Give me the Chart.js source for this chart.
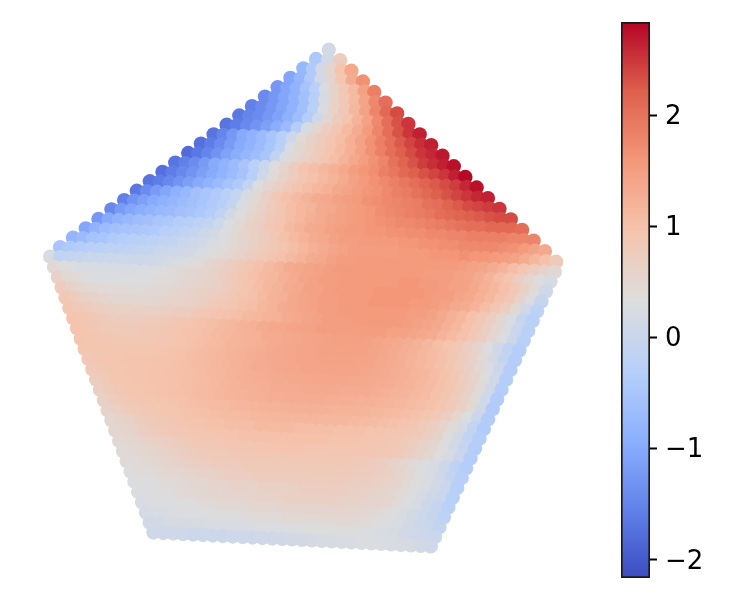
<!DOCTYPE html>
<html><head><meta charset="utf-8">
<style>html,body{margin:0;padding:0;background:#fff}#a,#b{position:absolute;top:0}#a{left:0}#b{left:610px}</style>
<script src="https://cdn.jsdelivr.net/npm/chart.js@4"></script></head>
<body><canvas id="a" width="600" height="600"></canvas><canvas id="b" width="140" height="600"></canvas>
<script>
const tickValues=[-2,-1,0,1,2];
const colorMin=-2.162, colorMax=2.836;
const coolwarm=[[59,76,192],[98,130,234],[141,176,254],[184,208,249],[221,221,221],[245,196,173],[244,152,122],[222,96,77],[180,4,38]];
const pentagonX=[0.0992,1.0176,0.5064,-0.6016,-1.0176];
const pentagonY=[1.0812,0.2212,-0.9148,-0.8592,0.2568];
const rowSlope=-0.05;
const rowLevels=[1.086,1.046,1.006,.965,.925,.885,.844,.804,.764,.723,.683,.643,.602,.562,.522,.481,.441,.401,.360,.320,.280,.239,.199,.159,.118,.078,.038,-.003,-.043,-.083,-.124,-.164,-.204,-.245,-.285,-.325,-.366,-.406,-.446,-.486,-.527,-.567,-.607,-.648,-.688,-.728,-.769,-.809,-.849,-.888];
// values in hundredths, one list per row of the lattice
const rowValues=[
[15],
[-45,15,75],
[-75,-40,15,55,95,135],
[-105,-80,-40,15,55,90,130,165],
[-125,-105,-85,-55,-25,25,60,85,110,145,185],
[-140,-125,-105,-85,-60,-30,20,60,85,110,140,175,205],
[-155,-140,-125,-105,-85,-60,-25,25,60,85,115,145,180,210,235],
[-165,-150,-140,-125,-110,-90,-65,-35,10,50,75,95,120,145,175,205,230,250],
[-170,-160,-145,-130,-115,-95,-70,-35,20,50,70,90,110,130,155,180,205,230,250,265],
[-170,-150,-125,-100,-85,-70,-50,-30,5,40,60,75,90,105,125,145,165,185,205,225,240,255,265],
[-175,-160,-140,-120,-100,-85,-70,-50,-25,25,50,65,80,95,110,125,145,165,185,205,220,235,250,260,270],
[-180,-165,-150,-130,-110,-95,-80,-65,-50,-15,25,45,60,75,90,105,120,135,150,165,180,200,215,230,245,255,265,275],
[-170,-155,-140,-120,-100,-85,-70,-50,-25,0,35,55,75,95,105,115,125,135,150,160,170,185,195,210,220,230,240,250,265,280],
[-175,-160,-145,-130,-115,-100,-85,-70,-55,-30,10,40,60,75,90,100,110,120,130,145,155,165,175,185,195,205,215,225,235,245,260,275],
[-170,-160,-145,-130,-115,-100,-85,-70,-55,-40,-10,30,50,65,80,95,105,115,125,135,140,150,160,165,175,185,190,200,210,220,230,240,250,260,265],
[-165,-140,-120,-105,-90,-75,-60,-50,-40,-25,-5,20,45,65,85,100,110,120,130,135,145,150,155,165,170,175,180,185,190,200,205,215,225,235,240,245,250],
[-155,-130,-115,-100,-90,-80,-70,-60,-50,-40,-30,-10,25,45,60,75,90,105,115,120,130,135,145,150,155,160,170,175,180,185,190,195,205,210,215,220,225,230,235,235],
[-145,-120,-105,-95,-85,-75,-70,-60,-55,-45,-35,-15,15,35,50,65,80,90,105,115,125,130,140,145,150,155,160,165,170,175,175,180,185,190,195,200,205,205,210,210,210,205],
[-125,-100,-85,-75,-65,-60,-50,-45,-35,-30,-20,-10,10,30,45,60,70,85,95,110,120,130,135,145,150,155,155,160,160,165,165,170,170,175,175,180,180,185,185,185,185,180,180,180],
[-105,-85,-70,-60,-55,-50,-45,-40,-30,-25,-15,-5,5,15,30,45,55,65,75,85,100,110,120,130,135,145,150,150,155,155,155,155,160,160,165,165,170,170,175,175,175,175,170,165,155,145,135],
[-80,-70,-55,-50,-40,-35,-30,-25,-20,-15,-10,0,5,15,25,35,45,55,65,75,85,95,105,115,125,130,140,145,150,150,150,150,150,155,155,155,160,160,160,165,160,160,155,150,145,130,115,100,80],
[-50,-40,-35,-30,-25,-20,-20,-15,-10,-5,0,5,10,15,25,35,40,50,60,70,80,90,100,110,120,130,135,145,150,150,155,155,155,155,155,155,155,155,155,155,150,145,140,130,120,105,90,75,60,45],
[20,-15,-10,-5,0,0,5,5,5,5,10,15,20,25,35,40,50,60,70,80,90,100,110,120,130,135,140,145,150,155,155,155,155,155,155,155,155,155,150,150,150,145,140,130,120,105,90,70,50,35,20],
[45,35,30,25,25,25,25,25,25,30,30,35,40,45,50,55,60,70,80,90,100,110,115,125,130,140,145,150,150,155,155,155,155,155,155,160,160,155,155,150,145,145,135,125,115,100,85,65,40,10],
[60,45,40,35,30,30,30,30,35,35,40,40,45,50,55,60,65,75,85,95,105,115,120,130,135,145,145,150,155,155,155,155,160,160,160,160,160,155,150,150,140,135,125,115,100,85,60,30,-5],
[75,60,50,45,40,40,40,40,40,45,45,50,55,60,65,70,75,85,95,100,110,120,125,135,140,145,150,150,155,155,155,160,160,160,160,155,155,150,145,135,130,120,105,90,70,45,10,-20],
[85,75,65,60,55,50,50,50,50,50,55,60,60,65,70,80,85,90,100,105,115,120,130,135,140,145,150,150,155,155,155,155,155,155,155,150,150,145,135,125,115,100,85,70,50,25,-5,-25],
[90,80,75,70,65,65,65,65,65,65,70,75,75,85,90,95,100,105,110,115,120,125,130,135,140,145,150,150,150,155,155,155,155,155,150,145,140,135,125,115,100,85,70,50,25,0,-25],
[95,90,85,80,75,75,75,75,80,80,85,90,95,100,105,110,115,120,125,130,135,135,140,145,145,150,150,150,150,150,150,150,145,145,140,135,130,120,110,100,85,70,50,30,5,-25],
[95,90,85,82,80,80,82,85,87,90,93,97,100,105,110,115,118,122,125,130,132,135,138,140,143,145,147,148,147,145,142,138,133,128,122,115,105,95,85,72,55,35,10,-15,-35],
[95,92,90,88,87,87,87,88,90,92,96,100,103,108,112,117,120,125,128,132,135,138,140,142,144,145,145,145,145,142,138,133,128,122,115,108,100,88,75,60,40,15,-10,-35],
[92,92,92,92,92,92,92,93,95,97,100,104,108,112,116,120,124,128,131,134,136,138,140,142,143,143,143,143,142,140,136,132,127,120,115,108,100,90,78,65,48,25,0,-35],
[85,90,93,94,95,95,96,97,98,100,103,107,110,114,118,122,126,130,132,135,137,138,140,140,141,141,141,140,138,136,133,128,123,118,113,106,97,87,72,55,35,8,-35],
[80,87,92,94,95,96,97,98,100,102,105,108,112,115,119,123,126,129,131,133,135,136,137,137,137,137,136,135,133,131,128,124,120,115,108,100,90,78,62,42,12,-35],
[75,83,90,93,95,96,98,99,101,103,106,109,112,116,119,123,126,128,130,131,132,133,133,133,133,132,131,130,127,124,120,117,112,107,100,92,78,62,40,8,-38],
[70,80,88,92,94,96,98,100,102,105,108,111,114,117,120,123,125,127,128,129,129,129,129,128,127,126,125,123,120,117,114,110,105,100,93,82,66,45,10,-38],
[65,75,83,88,91,93,95,98,100,103,106,109,111,114,116,118,120,121,122,123,123,123,122,121,120,119,117,115,112,109,105,100,92,83,70,52,30,2,-38],
[60,68,76,82,86,89,92,94,97,100,102,105,107,109,111,113,114,115,116,116,116,116,115,114,113,111,109,107,104,100,95,90,82,72,58,40,18,-10,-38],
[50,60,65,75,80,85,85,90,95,95,100,100,105,105,105,110,110,110,110,105,105,105,105,100,100,100,95,95,90,90,85,80,70,60,35,15,-15,-35],
[50,55,60,70,75,80,85,85,90,90,95,95,95,100,100,100,100,100,100,100,100,100,95,95,95,95,90,90,85,80,70,60,50,35,15,-5,-35],
[45,50,55,60,65,70,75,80,85,85,85,90,90,90,90,95,95,95,95,90,90,90,90,90,90,90,85,85,80,70,60,50,35,20,0,-35],
[40,45,50,55,60,65,70,75,80,80,80,85,85,85,85,85,85,85,85,85,85,85,85,80,80,75,70,60,50,40,30,20,5,-20,-35],
[40,40,45,50,55,60,65,70,70,75,75,75,80,80,80,80,80,80,80,80,80,80,80,75,75,70,65,55,45,35,25,10,-10,-30],
[35,40,40,45,50,50,55,60,60,65,70,70,70,75,75,75,75,75,75,75,75,75,75,70,70,65,60,55,45,35,25,15,0,-30],
[30,35,35,40,40,45,50,50,55,55,60,60,60,65,65,65,65,70,70,70,70,70,65,65,60,55,50,40,30,20,10,0,-25],
[30,30,35,35,40,45,45,50,50,55,55,55,60,60,60,65,65,65,65,65,65,60,60,55,55,50,40,30,20,5,-5,-25],
[25,30,30,30,35,35,40,40,45,45,45,50,50,50,55,55,55,55,55,55,55,50,50,45,40,35,25,15,5,-5,-20],
[20,25,25,30,30,30,30,35,35,35,40,40,40,40,45,45,45,45,45,45,45,45,40,35,30,25,15,5,0,-10],
[15,15,20,20,20,20,25,25,25,25,25,30,30,30,30,35,35,35,35,35,35,30,30,25,20,15,10,5,0],
[10,10,8,8,5,5,5,5,8,8,10,10,12,12,15,15,18,20,22,25,25,28,28,28,25,22,20,15,10]
];
function cmap(v){
  const t=Math.max(0,Math.min(1,(v-colorMin)/(colorMax-colorMin)))*(coolwarm.length-1);
  const i=Math.min(coolwarm.length-2,Math.floor(t)),f=t-i,a=coolwarm[i],b=coolwarm[i+1];
  return `rgb(${a.map((c,j)=>Math.round(c+(b[j]-c)*f)).join(',')})`;
}
function rowExtent(level){
  const xs=[];const n=pentagonX.length;
  for(let i=0;i<n;i++){
    const x1=pentagonX[i],y1=pentagonY[i],x2=pentagonX[(i+1)%n],y2=pentagonY[(i+1)%n];
    const f1=y1-(level+rowSlope*x1),f2=y2-(level+rowSlope*x2);
    if(f1*f2<=0&&f1!==f2)xs.push(x1+(x2-x1)*f1/(f1-f2));
  }
  return [Math.min(...xs),Math.max(...xs)];
}
const points=[],colors=[];
rowLevels.forEach((lvl,r)=>{
  const [lo,hi]=rowExtent(lvl),vals=rowValues[r],n=vals.length;
  vals.forEach((v,i)=>{
    const x=n>1?lo+(hi-lo)*i/(n-1):(lo+hi)/2;
    points.push({x,y:lvl+rowSlope*x});colors.push(cmap(v/100));
  });
});
new Chart(document.getElementById('a'),{type:'scatter',
  data:{datasets:[{data:points,pointRadius:7.2,pointBorderWidth:0,pointBackgroundColor:colors,clip:false}]},
  options:{responsive:false,animation:false,events:[],
    layout:{padding:{left:29,right:21,top:45,bottom:5}},
    plugins:{legend:{display:false},tooltip:{enabled:false}},
    scales:{x:{display:false,min:-1.1,max:1.1},y:{display:false,min:-1.1,max:1.1}}}});
new Chart(document.getElementById('b'),{type:'bar',
  data:{labels:['c'],datasets:[{data:[[colorMin,colorMax]],borderColor:'#1a1a1a',borderWidth:2,borderSkipped:false,
    barPercentage:1,categoryPercentage:1,
    backgroundColor(ctx){
      const ca=ctx.chart.chartArea;if(!ca)return '#ddd';
      const g=ctx.chart.ctx.createLinearGradient(0,ca.bottom,0,ca.top);
      coolwarm.forEach((c,i)=>g.addColorStop(i/(coolwarm.length-1),`rgb(${c.join(',')})`));
      return g;}}]},
  options:{responsive:false,animation:false,events:[],
    layout:{padding:{left:11,right:0,top:22,bottom:22}},
    plugins:{legend:{display:false},tooltip:{enabled:false}},
    scales:{x:{display:false},
      y:{position:'right',min:colorMin,max:colorMax,
        afterFit(s){s.width=100;s.paddingTop=0;s.paddingBottom=0;},
        afterBuildTicks(s){s.ticks=tickValues.map(v=>({value:v}));},
        border:{display:false},
        grid:{drawOnChartArea:false,tickLength:7,tickWidth:2,tickColor:'#000',drawTicks:true},
        ticks:{padding:8,labelOffset:2,color:'#000',font:{family:'DejaVu Sans',size:26},callback:v=>String(v).replace('-','\u2212')}}}}});
</script></body></html>
